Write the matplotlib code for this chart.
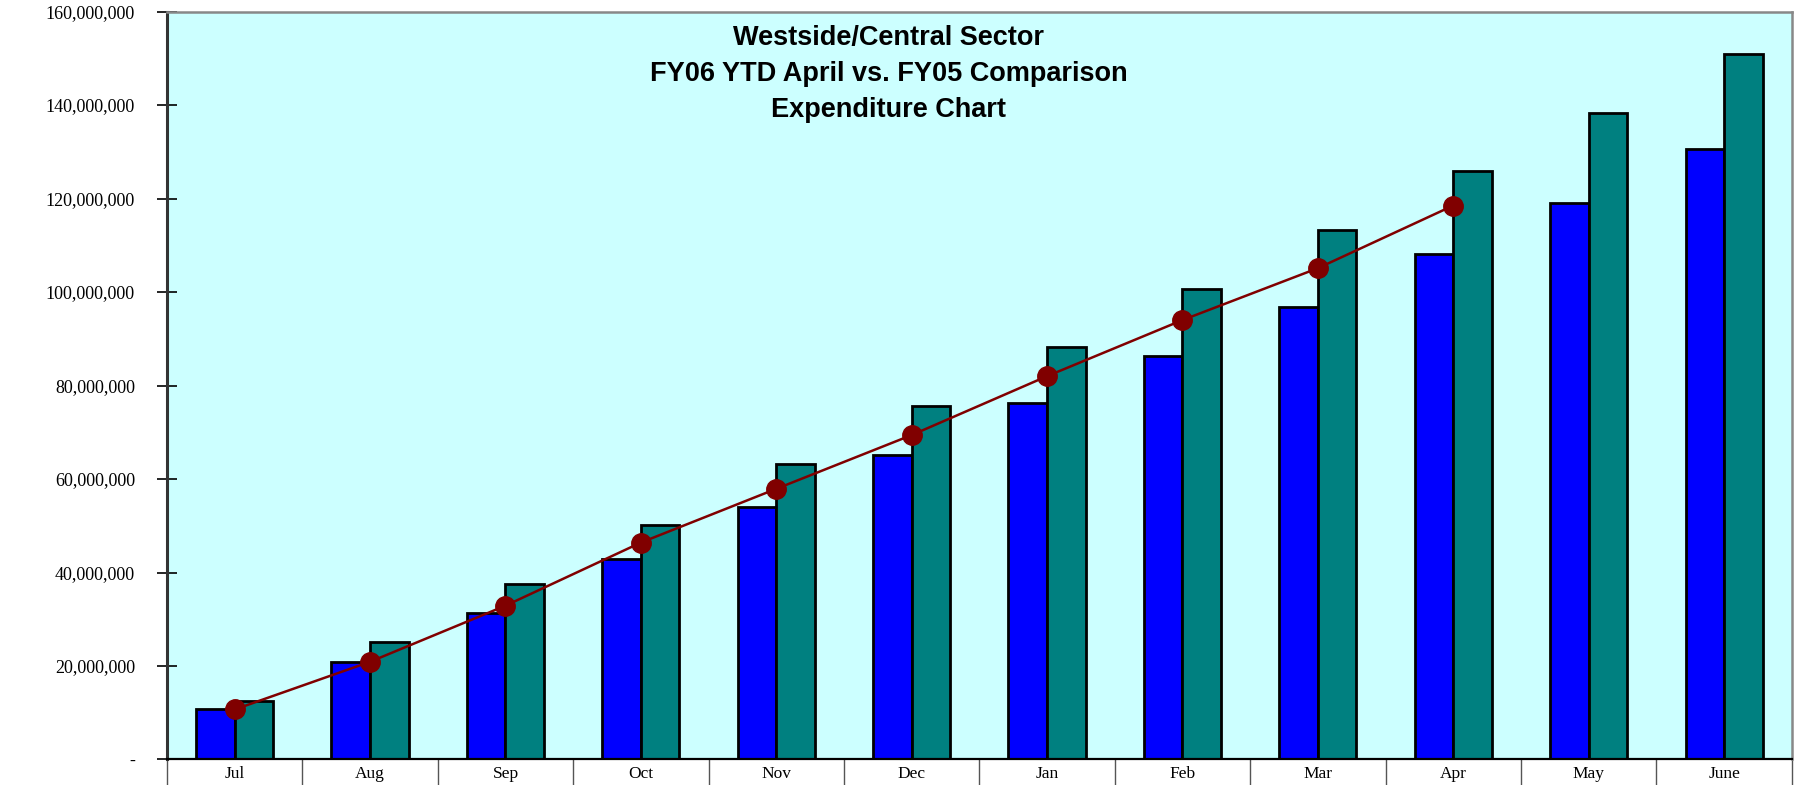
"""
Westside/Central Sector expenditure chart: FY06 YTD (to April) vs FY05, cumulative by month.
"""
import matplotlib
matplotlib.use("Agg")
import matplotlib.pyplot as plt
from matplotlib.ticker import FuncFormatter, FixedLocator
import numpy as np

months = ["Jul", "Aug", "Sep", "Oct", "Nov", "Dec", "Jan", "Feb", "Mar", "Apr", "May", "June"]
# cumulative spend, millions
fy_blue = [10.7, 20.9, 31.3, 42.9, 54.1, 65.1, 76.2, 86.3, 96.9, 108.1, 119.0, 130.6]
fy_teal = [12.6, 25.1, 37.6, 50.2, 63.2, 75.7, 88.2, 100.7, 113.3, 125.9, 138.3, 150.9]
ytd_line = [10.7, 20.9, 32.9, 46.4, 57.9, 69.4, 82.0, 94.0, 105.1, 118.5]
yticks = [0, 20e6, 40e6, 60e6, 80e6, 100e6, 120e6, 140e6, 160e6]

title = "Westside/Central Sector\nFY06 YTD April vs. FY05 Comparison\nExpenditure Chart"

serif = ["Liberation Serif", "DejaVu Serif"]

fig = plt.figure(figsize=(17.99, 7.85), dpi=100)
ax = fig.add_axes([0.0928, 0.0325, 0.9032, 0.9528])
ax.set_facecolor("#CCFFFF")

x = np.arange(len(months))
w = 0.285
ax.bar(x - w / 2, np.array(fy_blue) * 1e6, width=w, color="#0000FF",
       edgecolor="black", linewidth=2, zorder=2)
ax.bar(x + w / 2, np.array(fy_teal) * 1e6, width=w, color="#008080",
       edgecolor="black", linewidth=2, zorder=2)
ax.plot(x[:len(ytd_line)], np.array(ytd_line) * 1e6, "-o", color="#800000",
        lw=1.8, ms=14, zorder=3)

ax.set_xlim(-0.5, len(months) - 0.5)
ax.set_ylim(0, 160e6)

# y axis
ax.yaxis.set_major_locator(FixedLocator(yticks))
ax.yaxis.set_major_formatter(FuncFormatter(lambda v, p: "-" if v == 0 else f"{v:,.0f}"))
ax.tick_params(axis="y", direction="inout", length=14, width=1.2, pad=16,
               labelsize=13)
for lab in ax.get_yticklabels():
    lab.set_family(serif)

# x axis: labels centred, long boundary ticks between categories
ax.set_xticks(x)
ax.set_xticklabels(months, family=serif, fontsize=12.5)
ax.tick_params(axis="x", which="major", length=0, pad=5)
ax.set_xticks(np.arange(-0.5, len(months)), minor=True)
ax.tick_params(axis="x", which="minor", direction="out", length=26, width=1, color="#555555")

ax.spines["left"].set_linewidth(2.2)
ax.spines["left"].set_color("#333333")
ax.spines["bottom"].set_linewidth(1.6)
ax.spines["top"].set_color("#888888")
ax.spines["top"].set_linewidth(1.8)
ax.spines["right"].set_color("#888888")
ax.spines["right"].set_linewidth(1.8)

ax.text(0.444, 0.916, title, transform=ax.transAxes, ha="center", va="center",
        fontsize=19.5, fontweight="bold", family=["Liberation Sans", "DejaVu Sans"],
        linespacing=1.5, zorder=4)

fig.savefig("out.png", dpi=100)
